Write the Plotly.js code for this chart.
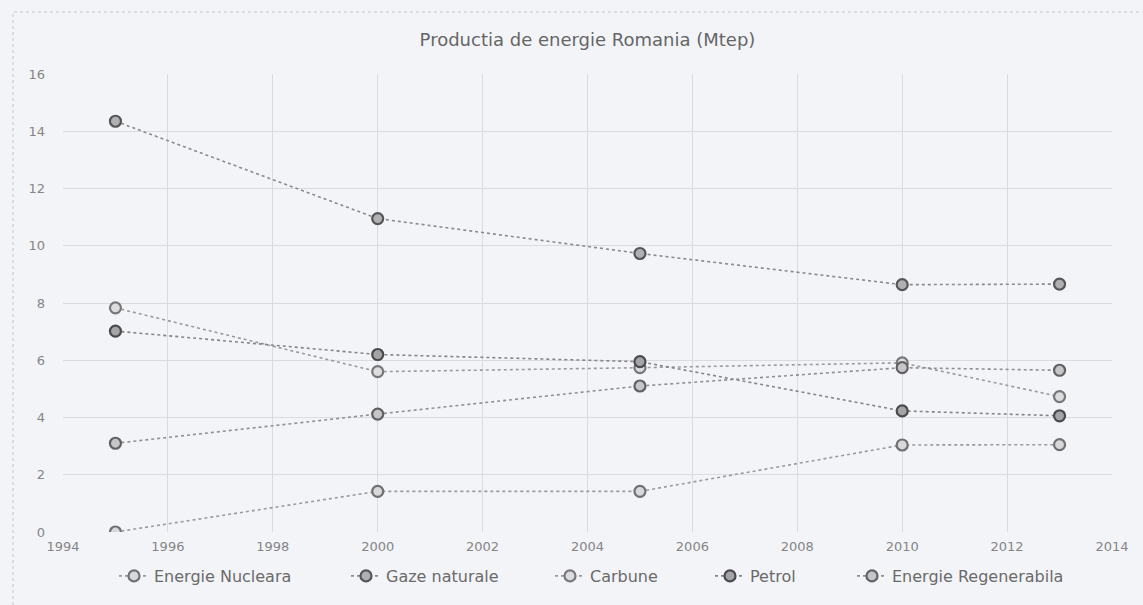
<!DOCTYPE html>
<html><head><meta charset="utf-8">
<script src="https://cdn.plot.ly/plotly-3.0.1.min.js"></script>
<style>html,body{margin:0;padding:0;background:#f3f4f8;}#chart{width:1143px;height:605px;}</style>
</head><body><div id="chart"></div>
<script>
const years = [1995, 2000, 2005, 2010, 2013];
const seriesNames = ["Energie Nucleara", "Gaze naturale", "Carbune", "Petrol", "Energie Regenerabila"];
const nucleara = [0, 1.42, 1.42, 3.04, 3.05];
const gaze = [14.35, 10.95, 9.73, 8.64, 8.66];
const carbune = [7.83, 5.6, 5.74, 5.91, 4.73];
const petrol = [7.02, 6.2, 5.95, 4.23, 4.06];
const regenerabila = [3.1, 4.12, 5.1, 5.74, 5.65];
const xTicks = [1994, 1996, 1998, 2000, 2002, 2004, 2006, 2008, 2010, 2012, 2014];
const yTicks = [0, 2, 4, 6, 8, 10, 12, 14, 16];

const values = [nucleara, gaze, carbune, petrol, regenerabila];
const lineColors = ["#9a9a9d", "#8a8a8d", "#9a9a9d", "#858588", "#909093"];
const markerLines = ["#707073", "#555558", "#77777a", "#4a4a4d", "#616164"];
const fills = ["#d8d8db", "#b0b0b3", "#dcdcdf", "#a4a4a7", "#c6c6c9"];
const legendX = [114, 346, 550, 710, 852];
const legendIds = ["legend", "legend2", "legend3", "legend4", "legend5"];

const traces = values.map((v, i) => ({
  x: years, y: v, name: seriesNames[i], type: "scatter", mode: "lines+markers",
  legend: legendIds[i],
  line: {color: lineColors[i], width: 1.6, dash: "dot"},
  marker: {symbol: "circle", size: 11, color: fills[i], line: {color: markerLines[i], width: 2.2}}
}));

const layout = {
  width: 1143, height: 605,
  paper_bgcolor: "#f3f4f8", plot_bgcolor: "#f3f4f8",
  margin: {l: 63, r: 31, t: 74, b: 73, autoexpand: false},
  title: {text: "Productia de energie Romania (Mtep)", x: 0.5, xref: "paper", xanchor: "center",
          y: 1 - 40 / 605, yanchor: "middle",
          font: {family: "DejaVu Sans, sans-serif", size: 18, color: "#666"}},
  xaxis: {range: [1994, 2014], tickvals: xTicks, ticktext: xTicks.map(String), showgrid: true,
          gridcolor: "#dadbe0", gridwidth: 1, zeroline: false, showline: false, ticks: "", ticklabelstandoff: 5,
          tickfont: {family: "DejaVu Sans, sans-serif", size: 13, color: "#858585"}},
  yaxis: {range: [0, 16], tickvals: yTicks, ticktext: yTicks.map(String), showgrid: true,
          gridcolor: "#dadbe0", gridwidth: 1, zeroline: false, showline: false, ticks: "", ticklabelstandoff: 17,
          tickfont: {family: "DejaVu Sans, sans-serif", size: 13, color: "#858585"}},
  shapes: [{type: "rect", xref: "paper", yref: "paper",
            x0: (13 - 63) / 1049, x1: (1160 - 63) / 1049, y0: (532 - 620) / 458, y1: (532 - 12) / 458,
            line: {color: "#c4c5ca", width: 1, dash: "dot"}, fillcolor: "rgba(0,0,0,0)", layer: "below"}],
  showlegend: true
};
legendIds.forEach((id, i) => {
  layout[id] = {orientation: "h", xref: "container", yref: "container",
    x: legendX[i] / 1143, xanchor: "left", y: 1 - 576 / 605, yanchor: "middle",
    font: {family: "DejaVu Sans, sans-serif", size: 16, color: "#6a6a6a"},
    bgcolor: "rgba(0,0,0,0)", borderwidth: 0};
});
Plotly.newPlot("chart", traces, layout, {displayModeBar: false, staticPlot: true});
</script></body></html>
